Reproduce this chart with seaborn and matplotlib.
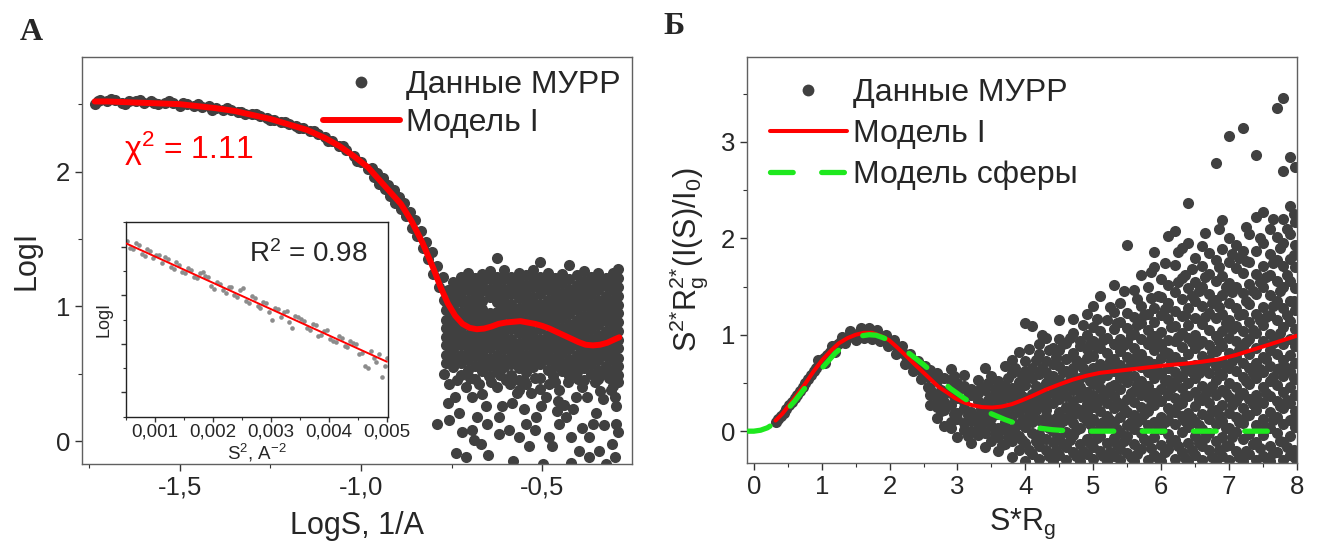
import numpy as np
import pandas as pd
import matplotlib
matplotlib.use("Agg")
import matplotlib.pyplot as plt
import seaborn as sns
from matplotlib.lines import Line2D
from matplotlib.ticker import MultipleLocator, FixedLocator

# ---------------- Panel A data (LogI vs LogS) ----------------
A_BAND = [
    (-1.735, 2.50), (-1.72, 2.53), (-1.70, 2.52), (-1.68, 2.53), (-1.66, 2.51), (-1.64, 2.52),
    (-1.62, 2.525), (-1.60, 2.51), (-1.58, 2.52), (-1.56, 2.50), (-1.54, 2.51), (-1.52, 2.505),
    (-1.50, 2.49), (-1.48, 2.50), (-1.46, 2.49), (-1.44, 2.48), (-1.42, 2.485), (-1.40, 2.47),
    (-1.38, 2.46), (-1.36, 2.455), (-1.34, 2.44), (-1.32, 2.43), (-1.30, 2.425), (-1.28, 2.41),
    (-1.26, 2.40), (-1.24, 2.38), (-1.22, 2.37), (-1.20, 2.35), (-1.18, 2.34), (-1.16, 2.32),
    (-1.14, 2.30), (-1.12, 2.28), (-1.10, 2.255), (-1.08, 2.23), (-1.06, 2.19), (-1.04, 2.16),
    (-1.02, 2.115), (-1.00, 2.07), (-0.98, 2.02),
    (-1.725, 2.52), (-1.69, 2.535), (-1.65, 2.50), (-1.61, 2.53), (-1.57, 2.505), (-1.53, 2.52),
    (-1.49, 2.51), (-1.45, 2.50), (-1.41, 2.46), (-1.37, 2.47), (-1.33, 2.445), (-1.29, 2.43),
    (-1.25, 2.385), (-1.21, 2.37), (-1.17, 2.325), (-1.13, 2.30), (-1.09, 2.23), (-1.05, 2.19),
    (-1.01, 2.08),
    (-0.97, 2.03), (-0.965, 1.96), (-0.955, 1.99), (-0.95, 1.91), (-0.94, 1.95), (-0.935, 1.87),
    (-0.925, 1.90), (-0.92, 1.82), (-0.91, 1.86), (-0.905, 1.77), (-0.895, 1.81), (-0.89, 1.72),
    (-0.88, 1.77), (-0.875, 1.67), (-0.865, 1.70), (-0.86, 1.58), (-0.85, 1.64), (-0.845, 1.52),
    (-0.835, 1.56), (-0.83, 1.43), (-0.82, 1.48), (-0.815, 1.35), (-0.805, 1.40), (-0.80, 1.24),
    (-0.79, 1.30), (-0.785, 1.14), (-0.775, 1.22), (-0.77, 1.05), (-0.76, 1.12),
]

A_CLOUD_X = [-0.765, -0.745, -0.725, -0.705, -0.685, -0.665, -0.645, -0.625, -0.605,
             -0.585, -0.565, -0.545, -0.525, -0.505, -0.485, -0.465, -0.445, -0.425,
             -0.405, -0.385, -0.365, -0.345, -0.325, -0.305, -0.29]
A_CLOUD_Y = [
    [0.58, 0.64, 0.71, 0.77, 0.84, 0.90, 0.97, 1.03],
    [0.55, 0.62, 0.68, 0.74, 0.81, 0.87, 0.94, 1.00, 1.07, 1.13, 1.18],
    [0.49, 0.58, 0.64, 0.71, 0.77, 0.84, 0.90, 0.96, 1.03, 1.10, 1.16, 1.22],
    [0.53, 0.60, 0.66, 0.73, 0.79, 0.86, 0.92, 0.99, 1.05, 1.12, 1.18, 1.25],
    [0.46, 0.56, 0.63, 0.69, 0.76, 0.82, 0.88, 0.95, 1.01, 1.08, 1.14, 1.21],
    [0.52, 0.59, 0.65, 0.72, 0.78, 0.85, 0.91, 0.98, 1.04, 1.11, 1.17, 1.24],
    [0.56, 0.62, 0.69, 0.75, 0.82, 0.88, 0.95, 1.07, 1.13, 1.20, 1.26],
    [0.51, 0.58, 0.64, 0.71, 0.77, 0.84, 0.90, 0.96, 1.03, 1.09, 1.16, 1.22, 1.36],
    [0.55, 0.61, 0.68, 0.74, 0.81, 0.87, 0.94, 1.00, 1.07, 1.13, 1.20, 1.27],
    [0.49, 0.57, 0.63, 0.70, 0.76, 0.83, 0.89, 0.96, 1.02, 1.09, 1.15, 1.22],
    [0.45, 0.54, 0.60, 0.67, 0.73, 0.80, 0.86, 0.93, 0.99, 1.06, 1.12, 1.19, 1.25],
    [0.42, 0.51, 0.58, 0.64, 0.71, 0.77, 0.84, 0.90, 0.97, 1.03, 1.10, 1.16, 1.23],
    [0.55, 0.62, 0.68, 0.75, 0.81, 0.88, 0.94, 1.01, 1.07, 1.14, 1.20, 1.27],
    [0.47, 0.57, 0.63, 0.70, 0.76, 0.83, 0.89, 0.96, 1.02, 1.09, 1.15, 1.22, 1.33],
    [0.53, 0.60, 0.66, 0.73, 0.79, 0.86, 0.92, 0.99, 1.05, 1.12, 1.18, 1.25],
    [0.44, 0.56, 0.62, 0.69, 0.75, 0.82, 0.88, 0.95, 1.01, 1.08, 1.14, 1.21],
    [0.52, 0.58, 0.65, 0.71, 0.78, 0.84, 0.91, 0.97, 1.04, 1.10, 1.17, 1.24],
    [0.48, 0.55, 0.61, 0.68, 0.74, 0.81, 0.87, 0.94, 1.00, 1.07, 1.13, 1.20, 1.31],
    [0.51, 0.58, 0.64, 0.71, 0.77, 0.84, 0.90, 0.97, 1.03, 1.10, 1.16, 1.23],
    [0.45, 0.54, 0.61, 0.67, 0.74, 0.80, 0.87, 0.93, 1.00, 1.06, 1.13, 1.19, 1.26],
    [0.50, 0.57, 0.63, 0.70, 0.76, 0.83, 0.89, 0.96, 1.02, 1.09, 1.15, 1.22],
    [0.46, 0.53, 0.60, 0.66, 0.73, 0.79, 0.86, 0.92, 0.99, 1.05, 1.12, 1.18, 1.25],
    [0.50, 0.56, 0.63, 0.69, 0.76, 0.82, 0.89, 0.95, 1.02, 1.08, 1.15, 1.21],
    [0.41, 0.53, 0.60, 0.66, 0.73, 0.79, 0.86, 0.92, 0.99, 1.05, 1.12, 1.18, 1.25],
    [0.49, 0.56, 0.62, 0.69, 0.75, 0.82, 0.88, 0.95, 1.01, 1.08, 1.14, 1.21, 1.28],
]

A_LOW = [
    (-0.757, 0.42), (-0.789, 0.13), (-0.757, 0.16), (-0.729, 0.21), (-0.739, -0.09), (-0.711, -0.12),
    (-0.720, 0.07), (-0.693, 0.08), (-0.688, 0.01), (-0.670, -0.02), (-0.651, 0.13), (-0.656, 0.26),
    (-0.619, 0.18), (-0.610, 0.26), (-0.624, 0.40), (-0.693, 0.33), (-0.582, 0.28), (-0.591, 0.08),
    (-0.564, 0.03), (-0.536, -0.04), (-0.545, 0.13), (-0.518, 0.18), (-0.504, 0.26), (-0.499, -0.17),
    (-0.481, 0.03), (-0.472, -0.04), (-0.453, 0.13), (-0.435, 0.18), (-0.421, 0.03), (-0.398, -0.07),
    (-0.370, 0.03), (-0.361, 0.13), (-0.343, -0.07), (-0.324, -0.17), (-0.306, -0.02), (-0.297, 0.13),
    (-0.297, 0.26), (-0.333, 0.31), (-0.407, 0.33), (-0.453, 0.38), (-0.564, 0.38), (-0.647, 0.48),
    (-0.665, 0.35), (-0.74, 0.33), (-0.71, 0.40), (-0.60, 0.45), (-0.53, 0.36), (-0.48, 0.42),
    (-0.44, 0.27), (-0.39, 0.40), (-0.35, 0.21), (-0.31, 0.38), (-0.29, 0.07), (-0.58, -0.15),
    (-0.42, -0.16), (-0.37, -0.12), (-0.30, -0.12), (-0.55, 0.24), (-0.68, 0.18),
    (-0.77, 0.50), (-0.735, 0.45), (-0.70, 0.47), (-0.675, 0.42), (-0.64, 0.44), (-0.615, 0.49),
    (-0.59, 0.42), (-0.57, 0.36), (-0.55, 0.45), (-0.52, 0.47), (-0.505, 0.39), (-0.49, 0.33),
    (-0.47, 0.48), (-0.455, 0.30), (-0.43, 0.44), (-0.415, 0.24), (-0.40, 0.46), (-0.375, 0.33),
    (-0.355, 0.44), (-0.34, 0.37), (-0.315, 0.47), (-0.30, 0.33), (-0.29, 0.44), (-0.52, 0.08),
    (-0.46, 0.22), (-0.39, 0.10), (-0.33, 0.12), (-0.62, 0.05), (-0.65, -0.10), (-0.76, 0.28),
]

MODEL_A_X = [-1.735, -1.70, -1.65, -1.60, -1.55, -1.50, -1.45, -1.40, -1.35, -1.30, -1.25, -1.20,
             -1.15, -1.10, -1.06, -1.02, -0.98, -0.95, -0.92, -0.89, -0.86, -0.83, -0.80, -0.78,
             -0.76, -0.74, -0.72, -0.70, -0.68, -0.66, -0.64, -0.62, -0.60, -0.58, -0.56, -0.54,
             -0.52, -0.50, -0.48, -0.46, -0.44, -0.42, -0.40, -0.38, -0.36, -0.34, -0.32, -0.30, -0.287]
MODEL_A_Y = [2.52, 2.52, 2.515, 2.51, 2.505, 2.50, 2.485, 2.47, 2.45, 2.42, 2.39, 2.35,
             2.31, 2.25, 2.19, 2.115, 2.03, 1.94, 1.85, 1.76, 1.63, 1.47, 1.28, 1.14,
             1.02, 0.93, 0.87, 0.84, 0.83, 0.835, 0.85, 0.87, 0.88, 0.885, 0.89, 0.88,
             0.87, 0.855, 0.835, 0.81, 0.785, 0.76, 0.735, 0.715, 0.71, 0.715, 0.73, 0.755, 0.77]

# Inset: Guinier plot
INSET_POINTS = [
    (0.00052, 2.512), (0.00062, 2.495), (0.00072, 2.503), (0.00082, 2.481), (0.00092, 2.492),
    (0.00102, 2.484), (0.00112, 2.466), (0.00122, 2.475), (0.00132, 2.455), (0.00142, 2.463),
    (0.00152, 2.446), (0.00162, 2.452), (0.00172, 2.435), (0.00182, 2.447), (0.00192, 2.438),
    (0.00202, 2.412), (0.00212, 2.423), (0.00222, 2.405), (0.00232, 2.417), (0.00242, 2.396),
    (0.00252, 2.415), (0.00262, 2.385), (0.00272, 2.395), (0.00282, 2.374), (0.00292, 2.384),
    (0.00302, 2.350), (0.00312, 2.372), (0.00322, 2.366), (0.00332, 2.345), (0.00342, 2.358),
    (0.00352, 2.352), (0.00362, 2.332), (0.00372, 2.340), (0.00382, 2.316), (0.00392, 2.327),
    (0.00402, 2.310), (0.00412, 2.303), (0.00422, 2.312), (0.00432, 2.294), (0.00442, 2.301),
    (0.00452, 2.278), (0.00462, 2.254), (0.00472, 2.285), (0.00482, 2.262), (0.00492, 2.232),
    (0.00500, 2.270),
    (0.00057, 2.497), (0.00067, 2.507), (0.00077, 2.486), (0.00087, 2.496), (0.00097, 2.476),
    (0.00107, 2.483), (0.00117, 2.478), (0.00127, 2.458), (0.00137, 2.468), (0.00147, 2.448),
    (0.00157, 2.456), (0.00167, 2.437), (0.00177, 2.445), (0.00187, 2.440), (0.00197, 2.420),
    (0.00207, 2.428), (0.00217, 2.410), (0.00227, 2.418), (0.00237, 2.400), (0.00247, 2.410),
    (0.00257, 2.388), (0.00267, 2.398), (0.00277, 2.378), (0.00287, 2.387), (0.00297, 2.366),
    (0.00307, 2.374), (0.00317, 2.356), (0.00327, 2.368), (0.00337, 2.333), (0.00347, 2.355),
    (0.00357, 2.346), (0.00367, 2.328), (0.00377, 2.338), (0.00387, 2.319), (0.00397, 2.328),
    (0.00407, 2.305), (0.00417, 2.315), (0.00427, 2.296), (0.00437, 2.305), (0.00447, 2.300),
    (0.00457, 2.280), (0.00467, 2.250), (0.00477, 2.270), (0.00487, 2.278), (0.00497, 2.255),
]
INSET_FIT_X = [0.0005, 0.0050]
INSET_FIT_Y = [2.507, 2.263]

# ---------------- Panel B data (Kratky plot) ----------------
B_BAND = [
    (0.32, 0.10), (0.36, 0.13), (0.40, 0.16), (0.44, 0.19), (0.48, 0.23), (0.52, 0.27), (0.56, 0.30),
    (0.60, 0.34), (0.64, 0.38), (0.68, 0.42), (0.72, 0.46), (0.76, 0.50), (0.80, 0.54), (0.84, 0.58),
    (0.88, 0.62), (0.92, 0.66), (0.96, 0.70), (1.00, 0.73), (1.04, 0.76), (1.08, 0.79), (1.12, 0.82),
    (1.16, 0.85), (1.20, 0.88), (1.24, 0.90), (1.28, 0.93), (1.32, 0.95), (1.36, 0.96), (1.40, 0.98),
    (1.44, 0.99), (1.48, 1.00), (1.52, 1.01), (1.56, 1.02), (1.60, 1.03), (1.64, 1.02), (1.68, 1.03),
    (1.72, 1.02), (1.76, 1.01), (1.80, 1.00), (1.84, 0.99), (1.88, 0.98), (1.92, 0.97), (1.96, 0.95),
    (2.00, 0.94), (2.04, 0.91), (2.08, 0.89), (2.12, 0.86), (2.16, 0.84), (2.20, 0.81), (2.24, 0.78),
    (2.28, 0.75), (2.32, 0.72), (2.36, 0.70), (2.40, 0.67), (2.44, 0.64), (2.48, 0.62), (2.52, 0.59),
    (2.56, 0.56),
    (0.95, 0.74), (1.05, 0.71), (1.15, 0.88), (1.20, 0.82), (1.30, 0.98), (1.35, 0.91), (1.42, 1.04),
    (1.50, 0.95), (1.58, 1.07), (1.62, 0.97), (1.70, 1.07), (1.74, 0.96), (1.82, 1.05), (1.86, 0.93),
    (1.94, 1.00), (1.98, 0.88), (2.06, 0.95), (2.10, 0.80), (2.18, 0.88), (2.22, 0.70), (2.30, 0.80),
    (2.34, 0.62), (2.42, 0.73), (2.46, 0.54), (2.52, 0.68), (2.56, 0.46), (2.60, 0.63), (2.62, 0.40),
]

B_CLOUD_X = [2.6, 2.7, 2.8, 2.9, 3.0, 3.1, 3.2, 3.3, 3.4, 3.5, 3.6, 3.7, 3.8, 3.9,
             4.0, 4.1, 4.2, 4.3, 4.4, 4.5, 4.6, 4.7, 4.8, 4.9, 5.0, 5.1, 5.2, 5.3,
             5.4, 5.5, 5.6, 5.7, 5.8, 5.9, 6.0, 6.1, 6.2, 6.3, 6.4, 6.5, 6.6, 6.7,
             6.8, 6.9, 7.0, 7.1, 7.2, 7.3, 7.4, 7.5, 7.6, 7.7, 7.8, 7.9, 7.97]
B_CLOUD_Y = [
    [0.27, 0.37, 0.44, 0.58],
    [0.14, 0.25, 0.33, 0.52, 0.60],
    [0.05, 0.22, 0.30, 0.39, 0.55],
    [0.03, 0.10, 0.27, 0.45, 0.52, 0.64],
    [-0.06, 0.13, 0.19, 0.34, 0.41, 0.50],
    [0.01, 0.08, 0.24, 0.30, 0.47, 0.58],
    [-0.12, 0.00, 0.11, 0.20, 0.37, 0.44],
    [-0.04, 0.07, 0.16, 0.31, 0.40, 0.53],
    [-0.16, -0.02, 0.12, 0.19, 0.27, 0.43, 0.65],
    [-0.10, 0.05, 0.14, 0.24, 0.35, 0.57],
    [-0.21, -0.06, 0.03, 0.18, 0.30, 0.39, 0.52],
    [-0.13, 0.01, 0.09, 0.22, 0.35, 0.47, 0.68],
    [-0.27, -0.10, 0.02, 0.16, 0.26, 0.31, 0.45, 0.60, 0.74],
    [-0.20, -0.05, 0.07, 0.20, 0.28, 0.42, 0.51, 0.82],
    [-0.31, -0.12, 0.04, 0.13, 0.25, 0.33, 0.48, 0.62, 0.73, 1.12],
    [-0.24, -0.02, 0.09, 0.18, 0.30, 0.39, 0.55, 0.66, 1.09],
    [-0.29, -0.15, -0.03, 0.12, 0.26, 0.35, 0.43, 0.59, 0.80, 0.90],
    [-0.20, -0.08, 0.05, 0.16, 0.22, 0.38, 0.50, 0.61, 0.73, 0.97],
    [-0.31, -0.11, 0.00, 0.10, 0.29, 0.40, 0.46, 0.57, 0.70, 0.86],
    [-0.25, -0.07, 0.06, 0.20, 0.33, 0.44, 0.53, 0.68, 0.84, 0.96, 1.15],
    [-0.30, -0.16, -0.01, 0.14, 0.25, 0.36, 0.48, 0.62, 0.75, 0.91],
    [-0.22, -0.04, 0.08, 0.17, 0.31, 0.43, 0.58, 0.66, 0.81, 1.02, 1.16],
    [-0.31, -0.13, 0.03, 0.22, 0.35, 0.46, 0.55, 0.71, 0.88, 0.93],
    [-0.24, -0.08, 0.11, 0.19, 0.28, 0.41, 0.60, 0.76, 0.85, 1.00, 1.21],
    [-0.29, -0.16, 0.00, 0.13, 0.25, 0.37, 0.49, 0.65, 0.78, 0.94, 1.08, 1.30],
    [-0.21, -0.05, 0.07, 0.21, 0.32, 0.45, 0.54, 0.70, 0.86, 1.04, 1.40],
    [-0.31, -0.12, 0.04, 0.16, 0.29, 0.40, 0.58, 0.66, 0.81, 0.97, 1.15],
    [-0.26, -0.07, 0.10, 0.24, 0.36, 0.48, 0.62, 0.75, 0.90, 1.06, 1.24, 1.52],
    [-0.30, -0.18, -0.01, 0.15, 0.27, 0.44, 0.55, 0.69, 0.83, 0.96, 1.13, 1.33],
    [-0.23, -0.05, 0.06, 0.20, 0.33, 0.51, 0.64, 0.77, 0.92, 1.07, 1.23, 1.93],
    [-0.31, -0.13, 0.02, 0.17, 0.30, 0.42, 0.57, 0.73, 0.86, 1.01, 1.18, 1.46],
    [-0.19, -0.02, 0.13, 0.25, 0.38, 0.52, 0.67, 0.80, 0.96, 1.12, 1.30, 1.62],
    [-0.30, -0.10, 0.06, 0.21, 0.35, 0.47, 0.61, 0.73, 0.90, 1.05, 1.21, 1.49],
    [-0.25, -0.06, 0.09, 0.27, 0.40, 0.55, 0.70, 0.84, 0.99, 1.13, 1.28, 1.70, 1.86],
    [-0.31, -0.14, 0.02, 0.15, 0.31, 0.44, 0.59, 0.76, 0.88, 1.03, 1.20, 1.39, 1.58],
    [-0.18, -0.03, 0.12, 0.24, 0.38, 0.53, 0.66, 0.81, 0.95, 1.16, 1.33, 1.52, 2.02],
    [-0.29, -0.09, 0.07, 0.20, 0.34, 0.48, 0.61, 0.77, 0.93, 1.09, 1.25, 1.44, 1.72, 2.08],
    [-0.22, -0.01, 0.16, 0.29, 0.45, 0.57, 0.72, 0.87, 1.02, 1.19, 1.37, 1.59, 1.90],
    [-0.31, -0.12, 0.04, 0.19, 0.36, 0.50, 0.64, 0.80, 0.97, 1.10, 1.28, 1.48, 1.95, 2.37],
    [-0.25, -0.05, 0.10, 0.26, 0.41, 0.55, 0.69, 0.86, 1.00, 1.17, 1.35, 1.55, 1.80],
    [-0.30, -0.15, 0.02, 0.18, 0.32, 0.47, 0.63, 0.78, 0.93, 1.11, 1.30, 1.49, 1.71, 1.92],
    [-0.20, -0.02, 0.13, 0.29, 0.44, 0.60, 0.74, 0.89, 1.05, 1.23, 1.42, 1.63, 1.85],
    [-0.31, -0.10, 0.07, 0.22, 0.37, 0.53, 0.68, 0.83, 0.99, 1.17, 1.36, 1.56, 1.77, 2.78],
    [-0.26, -0.06, 0.11, 0.27, 0.43, 0.58, 0.72, 0.88, 1.04, 1.22, 1.41, 1.61, 1.89, 2.19],
    [-0.30, -0.14, 0.03, 0.19, 0.35, 0.50, 0.66, 0.81, 0.97, 1.15, 1.33, 1.54, 1.75, 2.00, 3.06],
    [-0.21, -0.01, 0.15, 0.31, 0.46, 0.62, 0.77, 0.93, 1.09, 1.28, 1.49, 1.69, 1.93],
    [-0.31, -0.08, 0.08, 0.24, 0.40, 0.56, 0.71, 0.87, 1.04, 1.22, 1.43, 1.64, 1.87, 3.14],
    [-0.24, -0.03, 0.17, 0.33, 0.49, 0.65, 0.80, 0.96, 1.13, 1.32, 1.53, 1.75, 2.04],
    [-0.30, -0.11, 0.06, 0.22, 0.38, 0.55, 0.71, 0.86, 1.02, 1.21, 1.42, 1.63, 1.87, 2.22, 2.86],
    [-0.26, -0.04, 0.13, 0.29, 0.46, 0.61, 0.77, 0.93, 1.10, 1.29, 1.50, 1.71, 1.95, 2.27],
    [-0.31, -0.15, 0.03, 0.20, 0.36, 0.52, 0.68, 0.84, 1.01, 1.20, 1.41, 1.62, 1.84, 2.10],
    [-0.22, -0.02, 0.15, 0.31, 0.48, 0.64, 0.80, 0.97, 1.15, 1.35, 1.56, 1.78, 2.01, 3.35],
    [-0.30, -0.11, 0.07, 0.24, 0.41, 0.57, 0.74, 0.90, 1.08, 1.28, 1.49, 1.71, 1.95, 2.20, 2.70, 3.45],
    [-0.25, -0.05, 0.12, 0.29, 0.46, 0.62, 0.79, 0.96, 1.14, 1.35, 1.56, 1.79, 2.04, 2.33, 2.84],
    [-0.28, 0.04, 0.21, 0.37, 0.54, 0.71, 0.88, 1.06, 1.26, 1.48, 1.70, 1.93, 2.17, 2.74],
]
B_CLOUD2_X = [3.45, 3.65, 3.85, 4.05, 4.25, 4.45, 4.65, 4.85, 5.05, 5.25, 5.45, 5.65,
              5.85, 6.05, 6.25, 6.45, 6.65, 6.85, 7.05, 7.25, 7.45, 7.65, 7.85]
B_CLOUD2_Y = [
    [0.09, 0.32, 0.50],
    [-0.14, 0.26, 0.44],
    [-0.02, 0.37, 0.66],
    [-0.20, 0.21, 0.56, 0.85],
    [-0.08, 0.31, 0.66, 1.00],
    [-0.20, 0.14, 0.50, 0.77],
    [-0.09, 0.21, 0.53, 0.97],
    [-0.21, 0.15, 0.40, 0.66, 1.10],
    [-0.07, 0.30, 0.57, 0.87, 1.16],
    [-0.22, 0.12, 0.46, 0.73, 1.29],
    [-0.10, 0.23, 0.59, 0.89, 1.45],
    [-0.24, 0.10, 0.48, 0.79, 1.10, 1.37],
    [-0.17, 0.27, 0.64, 0.96, 1.38, 1.65],
    [-0.22, 0.09, 0.52, 0.82, 1.27, 1.74],
    [-0.15, 0.27, 0.55, 0.98, 1.55, 1.86],
    [-0.20, 0.14, 0.61, 0.92, 1.40, 1.68],
    [-0.07, 0.38, 0.70, 1.18, 1.60, 2.05],
    [-0.20, 0.17, 0.60, 0.94, 1.29, 1.70, 2.10],
    [-0.06, 0.27, 0.73, 1.06, 1.44, 1.84],
    [-0.21, 0.16, 0.52, 0.92, 1.35, 1.76, 2.12],
    [-0.17, 0.30, 0.64, 1.15, 1.55, 2.00],
    [-0.23, 0.12, 0.56, 0.91, 1.30, 1.74, 2.20],
    [-0.16, 0.32, 0.66, 1.20, 1.62, 2.10],
]
B_CLOUD3_X = [2.75, 2.95, 3.15, 3.35, 3.55, 3.75, 3.95, 4.15, 4.35, 4.55, 4.75, 4.95, 5.15, 5.35,
              5.55, 5.75, 5.95, 6.15, 6.35, 6.55, 6.75, 6.95, 7.15, 7.35, 7.55, 7.75, 7.95]
B_CLOUD3_Y = [
    [0.21, 0.43],
    [0.18, 0.36, 0.57],
    [-0.05, 0.17, 0.41],
    [0.02, 0.23, 0.46],
    [-0.03, 0.19, 0.44],
    [-0.06, 0.15, 0.40, 0.55],
    [-0.09, 0.11, 0.36, 0.58],
    [-0.10, 0.22, 0.47, 0.74],
    [-0.26, 0.03, 0.29, 0.55, 0.84],
    [-0.13, 0.11, 0.40, 0.61, 0.90],
    [-0.26, 0.01, 0.24, 0.50, 0.74],
    [-0.12, 0.07, 0.33, 0.52, 0.90],
    [-0.26, 0.10, 0.38, 0.62, 0.95],
    [-0.14, 0.02, 0.30, 0.67, 1.12],
    [-0.27, 0.10, 0.40, 0.70, 1.00],
    [-0.08, 0.18, 0.43, 0.74, 1.20],
    [-0.28, 0.04, 0.33, 0.62, 0.92, 1.40],
    [-0.10, 0.20, 0.45, 0.73, 1.08],
    [-0.28, 0.11, 0.38, 0.67, 1.20, 1.62],
    [-0.12, 0.06, 0.33, 0.60, 0.90, 1.45],
    [-0.27, 0.21, 0.47, 0.82, 1.33],
    [-0.15, 0.03, 0.40, 0.68, 1.12, 1.50],
    [-0.27, 0.09, 0.36, 0.84, 1.20, 1.80],
    [-0.13, 0.28, 0.60, 1.05, 1.45],
    [-0.28, 0.04, 0.40, 0.75, 1.18, 1.60],
    [-0.10, 0.26, 0.66, 1.02, 1.45, 1.90],
    [-0.20, 0.14, 0.55, 0.95, 1.35, 1.83, 2.25],
]

MODEL_B_X = [0.32, 0.42, 0.52, 0.64, 0.76, 0.88, 1.01, 1.13, 1.25, 1.38, 1.50, 1.62, 1.74, 1.86,
             1.99, 2.11, 2.23, 2.36, 2.48, 2.60, 2.72, 2.85, 2.97, 3.09, 3.21, 3.36, 3.51, 3.65,
             3.80, 3.95, 4.10, 4.30, 4.50, 4.70, 4.90, 5.10, 5.35, 5.60, 5.85, 6.10, 6.35, 6.60,
             6.85, 7.10, 7.35, 7.60, 7.80, 8.00]
MODEL_B_Y = [0.11, 0.18, 0.27, 0.38, 0.495, 0.62, 0.74, 0.83, 0.91, 0.965, 1.00, 1.02, 1.02, 0.99,
             0.945, 0.87, 0.79, 0.70, 0.62, 0.54, 0.46, 0.40, 0.34, 0.30, 0.27, 0.25, 0.245, 0.255,
             0.28, 0.32, 0.365, 0.43, 0.485, 0.535, 0.575, 0.605, 0.625, 0.645, 0.665, 0.685, 0.70, 0.72,
             0.745, 0.79, 0.845, 0.90, 0.945, 0.99]

SPHERE_X = [-0.08, 0.0, 0.1, 0.2, 0.3, 0.4, 0.5, 0.6, 0.7, 0.8, 0.9, 1.0, 1.1, 1.2, 1.3, 1.4, 1.5,
            1.6, 1.7, 1.8, 1.9, 2.0, 2.1, 2.2, 2.3, 2.4, 2.5, 2.6, 2.7, 2.8, 2.9, 3.0, 3.1, 3.2,
            3.3, 3.4, 3.5, 3.6, 3.7, 3.8, 3.9, 4.0, 4.2, 4.4, 4.6, 4.8, 5.5, 6.5, 7.83]
SPHERE_Y = [0.0, 0.0, 0.01, 0.035, 0.08, 0.15, 0.23, 0.31, 0.40, 0.49, 0.57, 0.65, 0.73, 0.81, 0.87,
            0.92, 0.96, 0.99, 1.0, 0.995, 0.97, 0.94, 0.90, 0.85, 0.80, 0.745, 0.69, 0.63, 0.57, 0.50,
            0.44, 0.39, 0.34, 0.295, 0.255, 0.215, 0.18, 0.15, 0.12, 0.095, 0.075, 0.058, 0.032,
            0.015, 0.005, 0.0, 0.0, 0.0, 0.0]

A_XTICKS = [-1.5, -1.0, -0.5]
A_XTICKLABELS = ["-1,5", "-1,0", "-0,5"]
A_YTICKS = [0, 1, 2]
INSET_XTICKS = [0.001, 0.002, 0.003, 0.004, 0.005]
INSET_XTICKLABELS = ["0,001", "0,002", "0,003", "0,004", "0,005"]
B_XTICKS = [0, 1, 2, 3, 4, 5, 6, 7, 8]
B_YTICKS = [0, 1, 2, 3]

LEGEND_A = ["Данные МУРР", "Модель I"]
LEGEND_B = ["Данные МУРР", "Модель I", "Модель сферы"]

# ---------------- build tables ----------------
def cols_to_df(xs, ys):
    rows = []
    for x, col in zip(xs, ys):
        for y in col:
            rows.append((x, y))
    return pd.DataFrame(rows, columns=["x", "y"])

dfA = pd.concat([pd.DataFrame(A_BAND, columns=["x", "y"]),
                 cols_to_df(A_CLOUD_X, A_CLOUD_Y),
                 pd.DataFrame(A_LOW, columns=["x", "y"])], ignore_index=True)
dfI = pd.DataFrame(INSET_POINTS, columns=["x", "y"])
dfB = pd.concat([pd.DataFrame(B_BAND, columns=["x", "y"]),
                 cols_to_df(B_CLOUD_X, B_CLOUD_Y),
                 cols_to_df(B_CLOUD2_X, B_CLOUD2_Y),
                 cols_to_df(B_CLOUD3_X, B_CLOUD3_Y)], ignore_index=True)

# ---------------- style ----------------
sns.set_style("ticks")
plt.rcParams["font.family"] = ["Liberation Sans", "DejaVu Sans"]
plt.rcParams["mathtext.default"] = "regular"

W, H = 1317, 556
DOT = "#404040"
RED = "#ff0000"
GREEN = "#1ee81e"
SPINE = "#606060"

fig = plt.figure(figsize=(W / 100, H / 100), dpi=100)
axA = fig.add_axes([82 / W, 1 - 464 / H, 550 / W, 407 / H])
axB = fig.add_axes([747 / W, 1 - 463 / H, 550 / W, 406 / H])
axI = fig.add_axes([126 / W, 1 - 417 / H, 262 / W, 195 / H])


def style_axis(ax, fs):
    for sp in ax.spines.values():
        sp.set_color(SPINE)
        sp.set_linewidth(1.0)
        sp.set_visible(True)
    ax.tick_params(which="major", direction="out", length=5, width=1, color="#333333",
                   labelsize=fs, top=False, right=False)
    ax.tick_params(which="minor", direction="out", length=3, width=0.8, color="#333333",
                   top=False, right=False)

# ----- panel A -----
sns.scatterplot(data=dfA, x="x", y="y", ax=axA, color=DOT, s=64, linewidth=0,
                legend=False, zorder=2)
sns.lineplot(x=MODEL_A_X, y=MODEL_A_Y, ax=axA, color=RED, lw=4.3, sort=False,
             estimator=None, legend=False, zorder=3)
axA.set_xlim(-1.77, -0.252)
axA.set_ylim(-0.17, 2.85)
axA.xaxis.set_major_locator(FixedLocator(A_XTICKS))
axA.set_xticklabels(A_XTICKLABELS)
axA.xaxis.set_minor_locator(MultipleLocator(0.25))
axA.yaxis.set_major_locator(FixedLocator(A_YTICKS))
axA.yaxis.set_minor_locator(MultipleLocator(0.5))
style_axis(axA, 18.5)
axA.set_xlabel("LogS, 1/A", fontsize=22, labelpad=8)
axA.set_ylabel("LogI", fontsize=22, labelpad=10)
axA.text(-1.655, 2.09, r"χ$^2$ = 1.11", color=RED, fontsize=23)

hA = [Line2D([], [], ls="none", marker="o", ms=8.5, color=DOT, mec="none"),
      Line2D([], [], color=RED, lw=4.3)]
axA.legend(hA, LEGEND_A, loc="upper left", bbox_to_anchor=(323 / W, 1 - 70 / H),
           bbox_transform=fig.transFigure, frameon=False, fontsize=23, handlelength=2.4,
           handletextpad=0.2, labelspacing=0.26, borderpad=0, borderaxespad=0)

# ----- inset -----
sns.scatterplot(data=dfI, x="x", y="y", ax=axI, color="#8c8c8c", s=11, linewidth=0,
                legend=False, zorder=2)
sns.lineplot(x=INSET_FIT_X, y=INSET_FIT_Y, ax=axI, color=RED, lw=1.4, sort=False,
             estimator=None, legend=False, zorder=3)
axI.set_xlim(0.0005, 0.00502)
axI.set_ylim(2.149, 2.551)
axI.xaxis.set_major_locator(FixedLocator(INSET_XTICKS))
axI.set_xticklabels(INSET_XTICKLABELS)
axI.xaxis.set_minor_locator(MultipleLocator(0.0005))
axI.yaxis.set_major_locator(FixedLocator([2.2, 2.3, 2.4, 2.5]))
axI.yaxis.set_minor_locator(MultipleLocator(0.05))
axI.set_yticklabels([])
style_axis(axI, 13.5)
for sp in axI.spines.values():
    sp.set_color("#222222")
axI.tick_params(which="major", length=3.5, pad=1.5)
axI.tick_params(which="minor", length=2)
axI.set_xlabel(r"S$^2$, A$^{-2}$", fontsize=13.5, labelpad=0.5)
axI.set_ylabel("LogI", fontsize=13, labelpad=4)
axI.text(0.00467, 2.468, r"R$^2$ = 0.98", fontsize=20, ha="right", va="baseline")
axI.set_facecolor("white")

# ----- panel B -----
sns.scatterplot(data=dfB, x="x", y="y", ax=axB, color=DOT, s=64, linewidth=0,
                legend=False, zorder=2)
sns.lineplot(x=MODEL_B_X, y=MODEL_B_Y, ax=axB, color=RED, lw=2.9, sort=False,
             estimator=None, legend=False, zorder=3)
sns.lineplot(x=SPHERE_X, y=SPHERE_Y, ax=axB, color=GREEN, lw=3.8, sort=False,
             estimator=None, legend=False, zorder=4)
gline = axB.lines[-1]
gline.set_linestyle((0, (4.3, 5.4)))
gline.set_dash_capstyle("round")
axB.set_xlim(-0.1, 8.0)
axB.set_ylim(-0.33, 3.88)
axB.xaxis.set_major_locator(FixedLocator(B_XTICKS))
axB.xaxis.set_minor_locator(MultipleLocator(0.5))
axB.yaxis.set_major_locator(FixedLocator(B_YTICKS))
axB.yaxis.set_minor_locator(MultipleLocator(0.5))
style_axis(axB, 18.5)
axB.set_xlabel(r"S*R$_g$", fontsize=22, labelpad=6)
axB.set_ylabel(r"S$^{2{*}}$R$_g^{2{*}}$(I(S)/I$_0$)", fontsize=22, labelpad=8)

hB = [Line2D([], [], ls="none", marker="o", ms=8.5, color=DOT, mec="none"),
      Line2D([], [], color=RED, lw=2.9),
      Line2D([], [], color=GREEN, lw=3.8, ls=(0, (4.3, 5.4)), dash_capstyle="round")]
axB.legend(hB, LEGEND_B, loc="upper left", bbox_to_anchor=(770 / W, 1 - 78 / H),
           bbox_transform=fig.transFigure, frameon=False, fontsize=23, handlelength=2.4,
           handletextpad=0.2, labelspacing=0.34, borderpad=0, borderaxespad=0)

# panel letters
fig.text(20 / W, 1 - 40 / H, "А", fontsize=23, fontweight="bold", family="Liberation Serif")
fig.text(663 / W, 1 - 34 / H, "Б", fontsize=23, fontweight="bold", family="Liberation Serif")

fig.savefig("out.png", dpi=100, facecolor="white")
